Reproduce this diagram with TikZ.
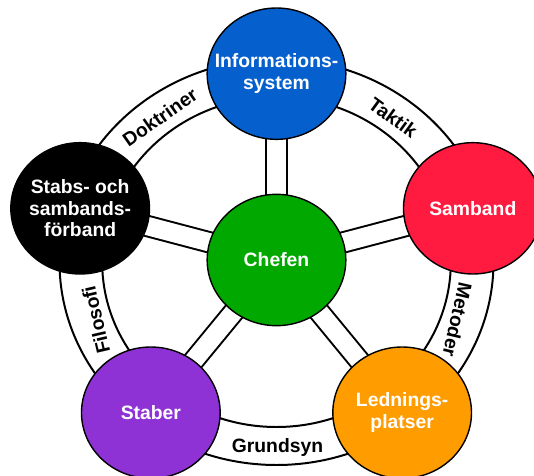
\documentclass[tikz,border=0pt]{standalone}
\usepackage{fontspec}
\setmainfont{Liberation Sans}
\usetikzlibrary{shapes.geometric,backgrounds}
\definecolor{infoblau}{RGB}{5,96,206}
\definecolor{sambandrot}{RGB}{255,26,64}
\definecolor{chefgruen}{RGB}{0,168,0}
\definecolor{ledorange}{RGB}{255,156,0}
\definecolor{staberlila}{RGB}{142,50,214}
\begin{document}
\begin{tikzpicture}[
	rund/.style={ellipse, draw=black, line width=1.2pt, minimum width=4.16cm, minimum height=3.94cm, inner xsep=-1.6cm, inner ysep=-1.2cm, align=center, text=white, font=\fontsize{16.5}{18.5}\selectfont\bfseries},
	ring/.style={line width=1.7pt},
	speiche/.style={line width=1.7pt, double=white, double distance=0.55cm},
	ringtext/.style={font=\fontsize{16.5}{18.5}\selectfont\bfseries}
]
	\useasboundingbox (-8.295,-6.45) rectangle (7.725,7.8);

	\node[rund, fill=chefgruen] (chef) at (0,0) {Chefen};%Mitte
	\node[rund, fill=infoblau] (info) at (0,5.59) {Informations-\\system};
	\node[rund, fill=sambandrot] (samband) at (5.89,1.55) {Samband};
	\node[rund, fill=ledorange] (ledning) at (3.77,-4.58) {Lednings-\\platser};
	\node[rund, fill=staberlila] (staber) at (-3.77,-4.58) {Staber};
	\node[rund, fill=black] (forband) at (-5.89,1.55) {Stabs- och\\sambands-\\förband};

	\begin{scope}[on background layer]
	\draw[ring] (0,-0.06) ellipse (6.51 and 6.09);%Ring aussen
	\draw[ring] (0,-0.06) ellipse (5.23 and 4.95);%Ring innen
	\draw[speiche] (chef.center) -- (info.center);
	\draw[speiche] (chef.center) -- (samband.center);
	\draw[speiche] (chef.center) -- (ledning.center);
	\draw[speiche] (chef.center) -- (staber.center);
	\draw[speiche] (chef.center) -- (forband.center);
	\end{scope}

	\node[ringtext, rotate=35] (doktriner) at (-3.5,4.28) {Doktriner};
	\node[ringtext, rotate=-36] (taktik) at (3.5,4.27) {Taktik};
	\node[ringtext, rotate=-103] (metoder) at (5.43,-1.8) {Metoder};
	\node[ringtext] (grundsyn) at (0.03,-5.61) {Grundsyn};
	\node[ringtext, rotate=103] (filosofi) at (-5.42,-1.8) {Filosofi};
\end{tikzpicture}
\end{document}
